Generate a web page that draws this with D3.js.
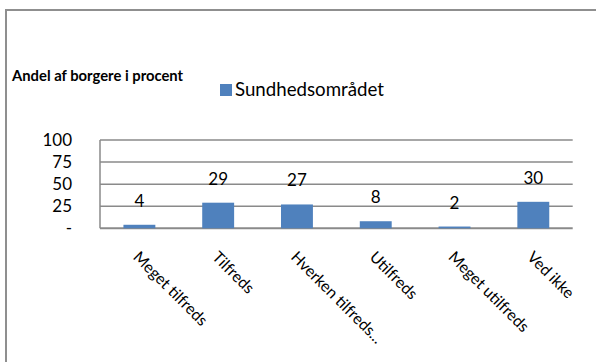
<!DOCTYPE html>
<html><head><meta charset="utf-8">
<script src="https://cdn.jsdelivr.net/npm/d3@7"></script>
<style>body{margin:0;background:#fff}svg{display:block}</style>
</head><body>
<svg id="c" width="596" height="362"></svg>
<script>
const categories = ["Meget tilfreds","Tilfreds","Hverken tilfreds...","Utilfreds","Meget utilfreds","Ved ikke"];
const values = [4,29,27,8,2,30];
const seriesName = "Sundhedsområdet";
const yTicks = [0,25,50,75,100];
const yTickLabels = ["-","25","50","75","100"];
const title = "Andel af borgere i procent";

(function(){
const svg = d3.select("#c");
const font = "Lato, 'Open Sans', sans-serif";
const pLeft = 100, pRight = 572.7, pTop = 140, pBottom = 228.3;

// frame
svg.append("line").attr("x1",6).attr("x2",6).attr("y1",9).attr("y2",362).attr("stroke","#8f8f8f").attr("stroke-width",2);
svg.append("line").attr("x1",5).attr("x2",596).attr("y1",10).attr("y2",10).attr("stroke","#8f8f8f").attr("stroke-width",2);

const x = d3.scaleBand().domain(categories).range([pLeft,pRight]).paddingInner(0.595).paddingOuter(0.2975);
const y = d3.scaleLinear().domain([0,100]).range([pBottom,pTop]);

// gridlines
svg.append("g").selectAll("line").data(yTicks.filter(t=>t>0)).join("line")
  .attr("x1",pLeft).attr("x2",pRight).attr("y1",d=>y(d)).attr("y2",d=>y(d))
  .attr("stroke","#8a8a8a").attr("stroke-width",1.5);
// axes lines
svg.append("line").attr("x1",pLeft).attr("x2",pLeft).attr("y1",y(100)).attr("y2",y(0)).attr("stroke","#8a8a8a").attr("stroke-width",1.5);
svg.append("line").attr("x1",pLeft).attr("x2",pRight).attr("y1",y(0)).attr("y2",y(0)).attr("stroke","#8a8a8a").attr("stroke-width",2);

// y labels
svg.append("g").selectAll("text").data(yTicks).join("text")
  .attr("x",72).attr("y",d=>y(d)).attr("dy","0.36em").attr("text-anchor","end")
  .attr("font-family",font).attr("font-size",17).attr("fill","#000")
  .text((d,i)=>yTickLabels[i]);

// bars
svg.append("g").selectAll("rect").data(values).join("rect")
  .attr("x",(d,i)=>x(categories[i])).attr("width",x.bandwidth())
  .attr("y",d=>y(d)).attr("height",d=>y(0)-y(d)).attr("fill","#4F81BD");

// data labels
svg.append("g").selectAll("text").data(values).join("text")
  .attr("x",(d,i)=>x(categories[i])+x.bandwidth()/2).attr("y",d=>y(d)-18)
  .attr("text-anchor","middle").attr("font-family",font).attr("font-size",17).attr("fill","#000")
  .text(d=>d);

// x labels
svg.append("g").selectAll("text").data(categories).join("text")
  .attr("transform",d=>`translate(${x(d)+x.bandwidth()/2+2},${249}) rotate(45)`)
  .attr("dominant-baseline","hanging")
  .attr("font-family",font).attr("font-size",15.8).attr("fill","#000")
  .text(d=>d);

// title
svg.append("text").attr("x",12).attr("y",81).attr("font-family",font).attr("font-weight","bold")
  .attr("font-size",14.8).attr("fill","#000").text(title);

// legend
svg.append("rect").attr("x",220).attr("y",84).attr("width",12).attr("height",12).attr("fill","#4F81BD");
svg.append("text").attr("x",235).attr("y",96).attr("font-family",font).attr("font-size",18.7).attr("fill","#000").text(seriesName);
})();
</script>
</body></html>
